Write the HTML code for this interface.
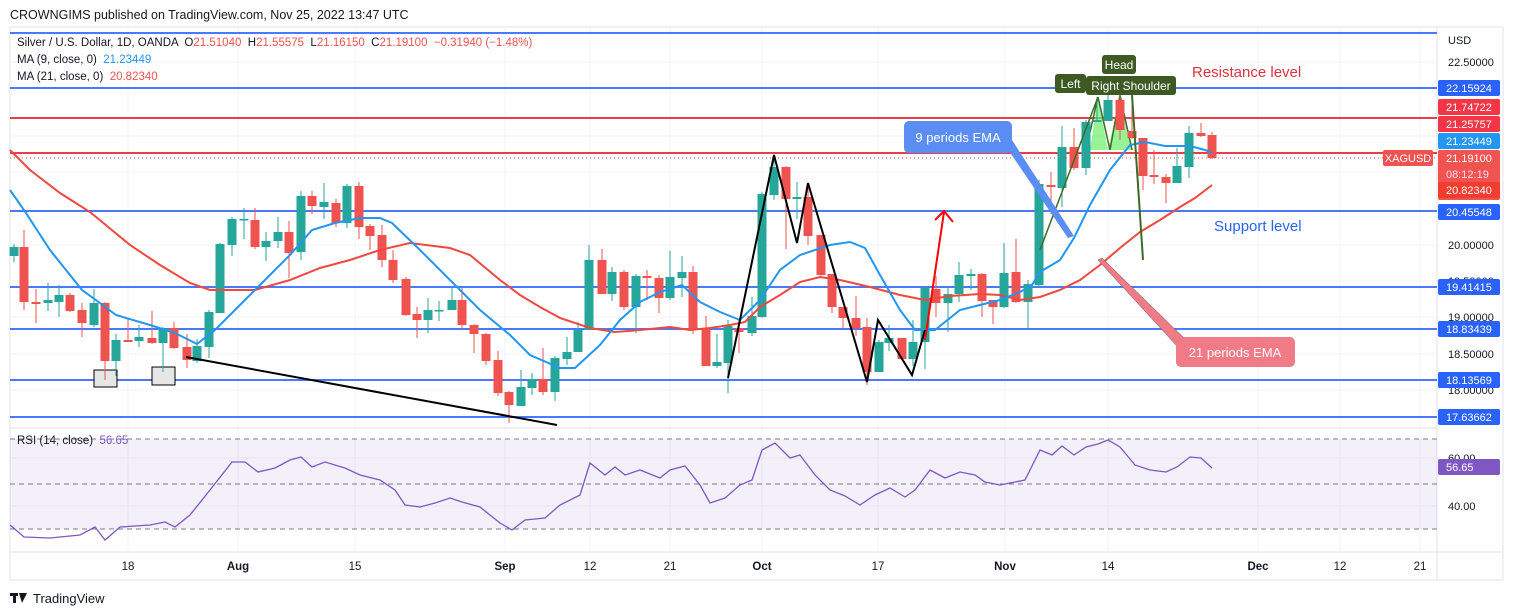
<!DOCTYPE html>
<html><head><meta charset="utf-8"><style>
body{margin:0;background:#fff;width:1514px;height:615px;overflow:hidden;font-family:"Liberation Sans",sans-serif}
svg{position:absolute;left:0;top:0}
text{white-space:pre}
</style></head><body>
<svg id="s" width="1514" height="615" xmlns="http://www.w3.org/2000/svg" font-family="Liberation Sans, sans-serif"></svg>
<script>
const C=[[14,'G',247,256,244,262],[24,'R',247,302,230,310],[36,'R',302,304,289,323],[48,'G',300,303,283,311],[59,'G',295,302,285,317],[70,'R',295,311,293,312],[82,'R',310,323,303,337],[94,'G',303,325,289,327],[105,'R',303,361,302,380],[116,'G',340,361,334,376],[128,'R',340,342,318,342],[139,'G',337,341,325,347],[152,'R',338,343,311,344],[163,'G',328,343,327,372],[174,'R',328,348,322,349],[187,'R',347,360,334,368],[197,'G',346,361,339,363],[209,'G',312,347,310,358],[220,'G',244,313,243,313],[232,'G',219,245,217,256],[244,'G',219,220,208,239],[255,'R',220,247,208,249],[266,'G',241,247,232,261],[278,'G',232,241,217,248],[289,'R',232,253,221,278],[301,'G',196,252,191,260],[312,'R',196,206,191,214],[324,'G',202,207,183,219],[336,'R',203,223,199,227],[347,'G',186,223,184,228],[359,'R',186,227,182,239],[370,'R',226,236,224,250],[382,'R',235,260,225,267],[393,'R',260,280,250,283],[406,'R',279,315,277,316],[417,'R',314,320,307,338],[428,'G',310,320,298,333],[439,'G',310,311,301,321],[452,'G',300,310,288,310],[462,'R',300,325,288,330],[474,'R',325,334,324,353],[486,'R',334,361,333,365],[498,'R',360,393,351,396],[509,'R',392,405,391,423],[521,'G',387,406,370,406],[532,'G',379,388,373,395],[543,'R',379,392,348,395],[555,'G',358,392,356,401],[567,'G',352,359,337,365],[578,'G',330,352,322,352],[589,'G',260,330,245,330],[602,'R',260,294,249,294],[612,'G',272,294,267,301],[624,'R',272,307,270,310],[636,'G',276,307,274,333],[647,'R',276,278,270,300],[659,'R',278,298,275,313],[670,'G',277,298,251,300],[682,'G',272,278,256,297],[693,'R',272,330,266,334],[706,'R',328,366,316,366],[717,'G',362,366,334,368],[728,'G',326,363,320,393],[739,'R',328,332,320,353],[752,'G',316,333,297,336],[762,'G',194,317,192,318],[774,'G',167,195,155,200],[786,'R',167,199,166,249],[797,'G',197,199,182,219],[808,'R',197,236,184,245],[821,'R',235,275,235,276],[832,'R',274,307,274,313],[843,'R',307,318,307,329],[856,'R',318,328,296,336],[867,'R',327,372,318,385],[879,'G',342,372,340,372],[889,'G',338,343,325,351],[902,'R',338,359,338,359],[913,'G',342,359,320,366],[925,'G',288,342,286,369],[936,'R',289,303,276,317],[948,'G',294,303,287,332],[959,'G',275,294,262,302],[971,'G',274,276,269,290],[982,'R',274,301,273,317],[993,'R',300,307,300,324],[1004,'G',273,307,243,308],[1016,'R',272,302,239,303],[1028,'G',284,302,280,330],[1039,'G',184,285,180,288],[1051,'R',185,187,172,214],[1062,'G',147,188,126,207],[1074,'R',147,168,128,170],[1086,'G',122,168,120,175],[1097,'G',120,122,97,122],[1108,'G',100,121,95,121],[1120,'R',100,130,81,140],[1132,'R',131,138,95,139],[1143,'R',138,176,138,190],[1154,'R',175,177,150,184],[1166,'R',177,183,174,203],[1177,'G',166,183,148,183],[1189,'G',133,167,126,178],[1201,'R',133,136,123,137],[1212,'R',135,158,132,159]];
const B=[[10,190],[24,210],[50,250],[82,290],[100,303],[116,315],[150,325],[175,333],[197,344],[215,330],[245,300],[265,280],[290,255],[312,230],[335,223],[360,218],[380,218],[392,223],[420,250],[450,280],[480,310],[510,335],[530,355],[560,368],[575,368],[600,345],[620,320],[640,302],[660,292],[682,285],[700,302],[720,312],[740,320],[760,300],[780,270],[800,255],[830,245],[850,242],[865,248],[880,275],[900,310],[915,330],[935,330],[960,310],[980,305],[1000,300],[1020,292],[1032,285],[1040,272],[1060,260],[1074,238],[1090,205],[1110,170],[1130,145],[1145,142],[1165,146],[1190,146],[1205,150],[1212,153]];
const R=[[10,150],[30,170],[60,193],[90,212],[130,245],[160,265],[190,283],[210,290],[230,290],[255,290],[290,280],[320,268],[350,260],[380,250],[410,243],[450,248],[470,255],[500,280],[520,295],[540,307],[560,318],[590,328],[615,332],[640,330],[670,327],[690,330],[710,328],[730,325],[745,322],[760,307],[780,295],[800,282],[820,277],[840,280],[870,287],[900,295],[925,300],[950,296],[980,294],[1000,295],[1020,300],[1040,297],[1060,290],[1080,280],[1100,265],[1120,248],[1140,232],[1160,220],[1180,207],[1195,198],[1212,185]];
const S=[[10,525],[24,537],[50,538],[80,535],[95,527],[105,540],[120,527],[150,525],[165,522],[175,527],[190,515],[210,490],[232,462],[245,462],[258,472],[275,468],[290,460],[301,457],[312,467],[325,462],[345,468],[360,475],[380,480],[395,490],[405,505],[420,507],[435,503],[450,498],[462,502],[480,507],[500,523],[512,530],[525,520],[545,518],[560,505],[580,495],[590,463],[605,475],[615,467],[625,475],[640,470],[660,478],[670,470],[685,466],[700,485],[710,503],[725,498],[740,485],[752,480],[762,450],[775,443],[790,458],[800,455],[815,475],[830,490],[845,496],[860,505],[875,495],[890,488],[905,497],[915,490],[930,470],[945,478],[960,472],[975,475],[985,482],[1000,485],[1015,482],[1025,480],[1040,450],[1052,455],[1062,446],[1074,455],[1086,447],[1098,444],[1108,440],[1120,447],[1135,465],[1150,470],[1166,472],[1177,467],[1190,457],[1201,458],[1212,468]];
let h='';
const pts=a=>a.map(p=>p.join(',')).join(' ');
h+='<rect x="10" y="27" width="1493" height="553" fill="none" stroke="#e0e3eb"/>';
[62,136,172,245,281,317,354,390,458,506].forEach(y=>h+=`<line x1="10" x2="1437" y1="${y}" y2="${y}" stroke="#f0f3fa"/>`);
[128,238,355,505,590,670,762,878,1005,1108,1258,1340,1420].forEach(x=>h+=`<line x1="${x}" x2="${x}" y1="27" y2="552" stroke="#f0f3fa"/>`);
h+='<line x1="1437" x2="1437" y1="27" y2="580" stroke="#e0e3eb"/><line x1="10" x2="1503" y1="552" y2="552" stroke="#e0e3eb"/><line x1="10" x2="1437" y1="428" y2="428" stroke="#e0e3eb"/>';
h+='<rect x="10" y="439" width="1427" height="90" fill="#7e57c2" fill-opacity="0.09"/>';
[439,484,529].forEach(y=>h+=`<line x1="10" x2="1437" y1="${y}" y2="${y}" stroke="#787b86" stroke-dasharray="5,4"/>`);
[33,88,211,287,329,380,417].forEach(y=>h+=`<line x1="10" x2="1437" y1="${y}" y2="${y}" stroke="#2962ff" stroke-width="2" opacity=".85"/>`);
[118,153].forEach(y=>h+=`<line x1="10" x2="1437" y1="${y}" y2="${y}" stroke="#e83e4a" stroke-width="2"/>`);
h+='<line x1="10" x2="1437" y1="158" y2="158" stroke="#ef5350" stroke-dasharray="1,3"/>';
h+='<rect x="94" y="370" width="23" height="17" fill="#e6e6e6" stroke="#000"/><rect x="152" y="367" width="23" height="18" fill="#e6e6e6" stroke="#000"/>';
h+='<polygon points="1090,150 1098,97 1108,150 1120,95 1131,150" fill="#69f06a" opacity=".7"/>';
h+='<polyline points="1086,150 1098,97 1110,150 1120,95 1132,150" fill="none" stroke="#3d6b26" stroke-width="1.5"/>';
C.forEach(c=>{const col=c[1]=='G'?'#26a69a':'#ef5350';h+=`<line x1="${c[0]}" x2="${c[0]}" y1="${c[4]}" y2="${c[5]}" stroke="${col}"/><rect x="${c[0]-4.5}" y="${c[2]}" width="9" height="${Math.max(1.5,c[3]-c[2])}" fill="${col}"/>`});
h+=`<polyline points="${pts(R)}" fill="none" stroke="#f0483e" stroke-width="2"/>`;
h+=`<polyline points="${pts(B)}" fill="none" stroke="#2196f3" stroke-width="2"/>`;
h+=`<polyline points="${pts(S)}" fill="none" stroke="#7e57c2" stroke-width="1.3"/>`;
h+='<line x1="186" y1="357" x2="557" y2="425" stroke="#000" stroke-width="2"/>';
h+='<polyline points="728,378 774,155 797,243 808,183 867,382 878,320 912,375 925,330" fill="none" stroke="#000" stroke-width="2"/>';
h+='<polyline points="925,340 944,212" stroke="#f00" stroke-width="2" fill="none"/><polyline points="935,220 944,211 953,222" stroke="#f00" stroke-width="2" fill="none"/>';
h+='<line x1="1040" y1="250" x2="1098" y2="97" stroke="#3d6b26" stroke-width="1.5"/><line x1="1132" y1="95" x2="1143" y2="260" stroke="#3d6b26" stroke-width="2"/>';
h+='<polygon points="1005,145 1012,140 1074,236 1068,238" fill="#5b8ef5"/><rect x="904" y="121" width="108" height="32" rx="5" fill="#5b8ef5"/><text x="958" y="142" fill="#fff" font-size="13" text-anchor="middle">9 periods EMA</text>';
h+='<polygon points="1098,260 1102,258 1186,340 1176,345" fill="#f07a85" stroke="#555" stroke-width=".5"/><rect x="1176" y="337" width="119" height="30" rx="5" fill="#f07a85"/><text x="1235" y="357" fill="#fff" font-size="13" text-anchor="middle">21 periods EMA</text>';
const lab=(x,y,w,t)=>h+=`<rect x="${x}" y="${y}" width="${w}" height="19" rx="3" fill="#3d5a24"/><text x="${x+w/2}" y="${y+14}" fill="#fff" font-size="12" text-anchor="middle">${t}</text>`;
lab(1055,74,31,'Left');lab(1102,55,34,'Head');lab(1086,76,90,'Right Shoulder');
h+='<text x="1192" y="77" fill="#e0303e" font-size="15">Resistance level</text><text x="1214" y="231" fill="#2962ff" font-size="15">Support level</text>';
h+='<text x="10" y="19" font-size="12.5" fill="#131722">CROWNGIMS published on TradingView.com, Nov 25, 2022 13:47 UTC</text>';
h+='<text x="17" y="46" font-size="11.5" fill="#131722">Silver / U.S. Dollar, 1D, OANDA  O<tspan fill="#ef5350">21.51040</tspan>  H<tspan fill="#ef5350">21.55575</tspan>  L<tspan fill="#ef5350">21.16150</tspan>  C<tspan fill="#ef5350">21.19100  −0.31940 (−1.48%)</tspan></text>';
h+='<text x="17" y="63" font-size="11.5" fill="#131722">MA (9, close, 0)  <tspan fill="#2196f3">21.23449</tspan></text>';
h+='<text x="17" y="80" font-size="11.5" fill="#131722">MA (21, close, 0)  <tspan fill="#ef5350">20.82340</tspan></text>';
h+='<text x="17" y="444" font-size="11.5" fill="#131722">RSI (14, close)  <tspan fill="#7e57c2">56.65</tspan></text>';
h+='<text x="1448" y="44" font-size="11" fill="#131722">USD</text>';
[[62,'22.50000'],[245,'20.00000'],[281,'19.50000'],[317,'19.00000'],[354,'18.50000'],[390,'18.00000'],[458,'60.00'],[506,'40.00']].forEach(a=>h+=`<text x="1448" y="${a[0]+4}" font-size="11" fill="#131722">${a[1]}</text>`);
const tag=(y,t,c,hh)=>{hh=hh||16;h+=`<rect x="1438" y="${y-hh/2}" width="62" height="${hh}" rx="2" fill="${c}"/><text x="1446" y="${y+4}" font-size="11" fill="#fff">${t}</text>`};
tag(88,'22.15924','#2962ff');tag(107,'21.74722','#f23645');tag(124,'21.25757','#f23645');tag(141,'21.23449','#2196f3');
h+='<rect x="1438" y="150" width="62" height="50" rx="2" fill="#f05350"/><text x="1446" y="162" font-size="11" fill="#fff">21.19100</text><text x="1446" y="178" font-size="11" fill="#fde">08:12:19</text>';
tag(190,'20.82340','#f23c2f');tag(212,'20.45548','#2962ff');tag(287,'19.41415','#2962ff');tag(329,'18.83439','#2962ff');tag(380,'18.13569','#2962ff');tag(417,'17.63662','#2962ff');
h+='<rect x="1438" y="459" width="62" height="16" rx="2" fill="#7e57c2"/><text x="1446" y="471" font-size="11" fill="#fff">56.65</text>';
h+='<rect x="1383" y="150" width="50" height="16" rx="2" fill="#ef5350"/><text x="1408" y="162" font-size="11" fill="#fff" text-anchor="middle">XAGUSD</text>';
[[128,'18'],[238,'Aug'],[355,'15'],[505,'Sep'],[590,'12'],[670,'21'],[762,'Oct'],[878,'17'],[1005,'Nov'],[1108,'14'],[1258,'Dec'],[1340,'12'],[1420,'21']].forEach(a=>{const b=isNaN(a[1]);h+=`<text x="${a[0]}" y="570" font-size="11.5" fill="#131722" text-anchor="middle" ${b?'font-weight="bold"':''}>${a[1]}</text>`});
h+='<rect x="10" y="593" width="8" height="3" fill="#131722"/><rect x="13" y="593" width="3" height="10" fill="#131722"/><polygon points="19,593 27,593 22,603" fill="#131722"/><text x="33" y="603" font-size="13" fill="#131722">TradingView</text>';
document.getElementById('s').innerHTML=h;
</script>
</body></html>
